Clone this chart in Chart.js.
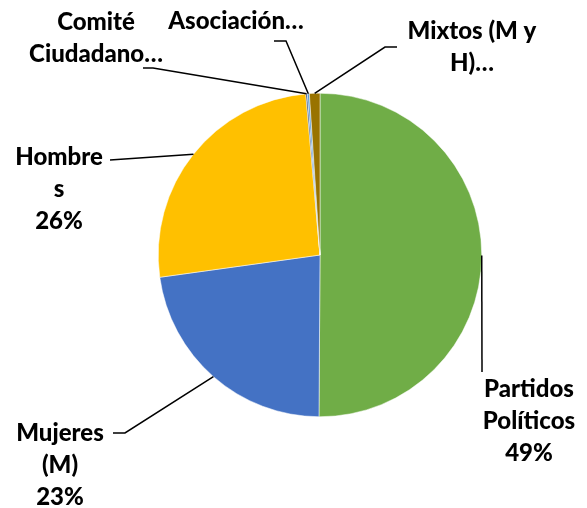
<!DOCTYPE html>
<html>
<head>
<meta charset="utf-8">
<script src="https://cdn.jsdelivr.net/npm/chart.js@4"></script>
<style>
  body { margin: 0; background: #fff; }
  canvas { display: block; }
</style>
</head>
<body>
<canvas id="pieChart" width="587" height="508"></canvas>
<script>
// data (percent of total)
const categories = ['Partidos Políticos', 'Mujeres (M)', 'Hombres', 'Comité Ciudadano', 'Asociación', 'Mixtos (M y H)'];
const shares = [50.1, 22.7, 25.8, 0.15, 0.2, 1.05];
const labelLines = [
    ['Partidos', 'Políticos', '49%'],
    ['Mujeres', '(M)', '23%'],
    ['Hombre', 's', '26%'],
    ['Comité', 'Ciudadano…'],
    ['Asociación…'],
    ['Mixtos (M y', 'H)…']
];
const sliceColors = ['#70AD47', '#4472C4', '#FFC000', '#264478', '#5B9BD5', '#997300'];

// where each label sits and where its leader line starts
const labelLayout = [
    { x: 529, y: 389, line: [[482, 372]] },
    { x: 60, y: 433, line: [[113, 433], [125, 433]] },
    { x: 59, y: 157, line: [[110, 160]] },
    { x: 96, y: 22, line: [[143, 68], [153, 68]] },
    { x: 236, y: 21, line: [[274, 41], [286, 41]] },
    { x: 472, y: 31, line: [[397, 47], [385, 47]] }
];

const outsideLabels = {
    id: 'outsideLabels',
    afterDatasetsDraw(chart) {
        const ctx = chart.ctx;
        const arcs = chart.getDatasetMeta(0).data;
        ctx.save();
        arcs.forEach((arc, i) => {
            const p = arc.getProps(['x', 'y', 'startAngle', 'endAngle', 'outerRadius'], true);
            const mid = (p.startAngle + p.endAngle) / 2;
            const ex = p.x + Math.cos(mid) * p.outerRadius;
            const ey = p.y + Math.sin(mid) * p.outerRadius;
            const lay = labelLayout[i];

            ctx.strokeStyle = '#000';
            ctx.lineWidth = 1.5;
            ctx.beginPath();
            ctx.moveTo(lay.line[0][0], lay.line[0][1]);
            lay.line.slice(1).forEach(pt => ctx.lineTo(pt[0], pt[1]));
            ctx.lineTo(ex, ey);
            ctx.stroke();

            ctx.fillStyle = '#000';
            ctx.font = '900 24px Lato';
            ctx.textAlign = 'center';
            ctx.textBaseline = 'middle';
            labelLines[i].forEach((t, k) => {
                ctx.fillText(t, lay.x, lay.y + k * 32);
            });
        });
        ctx.restore();
    }
};

new Chart(document.getElementById('pieChart').getContext('2d'), {
    type: 'pie',
    data: {
        labels: categories,
        datasets: [{
            data: shares,
            backgroundColor: sliceColors,
            borderColor: '#fff',
            borderWidth: 0.5
        }]
    },
    options: {
        responsive: false,
        animation: false,
        layout: { padding: { left: 158, right: 105, top: 93, bottom: 91 } },
        plugins: {
            legend: { display: false },
            tooltip: { enabled: false }
        }
    },
    plugins: [outsideLabels]
});
</script>
</body>
</html>
